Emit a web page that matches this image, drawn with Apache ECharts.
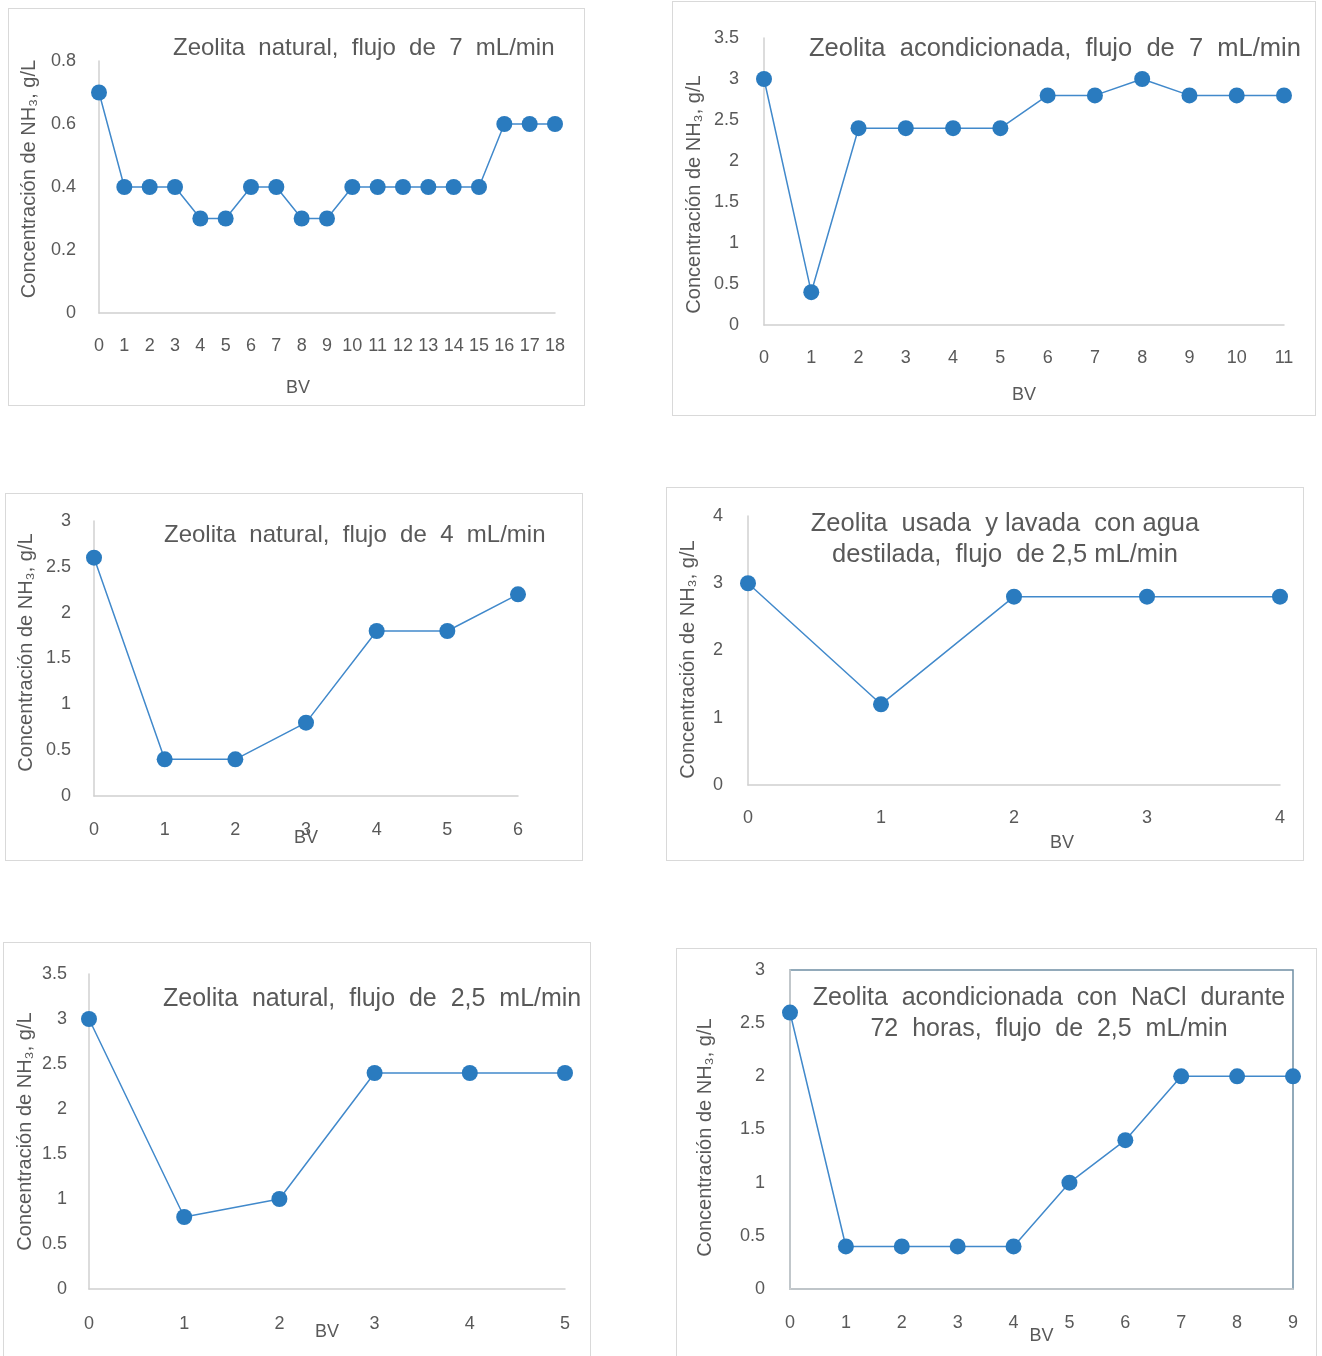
<!DOCTYPE html>
<html>
<head>
<meta charset="utf-8">
<script src="https://cdn.jsdelivr.net/npm/echarts@6/dist/echarts.min.js"></script>
<style>
body { margin: 0; width: 1322px; height: 1356px; background: #fff; position: relative; overflow: hidden; }
.box { position: absolute; border: 1px solid #d9d9d9; box-sizing: border-box; }
</style>
</head>
<body>
<div class="box" id="c1" style="left:8px;top:8px;width:577px;height:398px"></div>
<div class="box" id="c2" style="left:672px;top:1px;width:644px;height:415px"></div>
<div class="box" id="c3" style="left:5px;top:493px;width:578px;height:368px"></div>
<div class="box" id="c4" style="left:666px;top:487px;width:638px;height:374px"></div>
<div class="box" id="c5" style="left:3px;top:942px;width:588px;height:420px"></div>
<div class="box" id="c6" style="left:676px;top:948px;width:641px;height:414px"></div>
<script>
// datos de cada ensayo
const bv1 = ['0','1','2','3','4','5','6','7','8','9','10','11','12','13','14','15','16','17','18']
const nh1 = [0.7, 0.4, 0.4, 0.4, 0.3, 0.3, 0.4, 0.4, 0.3, 0.3, 0.4, 0.4, 0.4, 0.4, 0.4, 0.4, 0.6, 0.6, 0.6]
const bv2 = ['0','1','2','3','4','5','6','7','8','9','10','11']
const nh2 = [3, 0.4, 2.4, 2.4, 2.4, 2.4, 2.8, 2.8, 3, 2.8, 2.8, 2.8]
const bv3 = ['0','1','2','3','4','5','6']
const nh3 = [2.6, 0.4, 0.4, 0.8, 1.8, 1.8, 2.2]
const bv4 = ['0','1','2','3','4']
const nh4 = [3, 1.2, 2.8, 2.8, 2.8]
const bv5 = ['0','1','2','3','4','5']
const nh5 = [3, 0.8, 1, 2.4, 2.4, 2.4]
const bv6 = ['0','1','2','3','4','5','6','7','8','9']
const nh6 = [2.6, 0.4, 0.4, 0.4, 0.4, 1, 1.4, 2, 2, 2]

const gris = '#595959'
const fuente = 'Liberation Sans'
const yName = 'Concentración de NH₃, g/L'

function grafico(id, c) {
	echarts.init(document.getElementById(id)).setOption({
		textStyle: { fontFamily: fuente },
		title: {
			text: c.title,
			left: c.tLeft,
			top: c.tTop,
			padding: 0,
			textAlign: c.tAlign || 'left',
			textStyle: { fontSize: c.tSize || 24, fontWeight: 'normal', color: gris, fontFamily: fuente, lineHeight: 31 }
		},
		grid: Object.assign({
			show: !!c.frame,
			borderColor: c.frame || '#ccc',
			borderWidth: 1.5,
			containLabel: false,
			outerBoundsMode: 'none'
		}, c.grid),
		xAxis: {
			type: 'category',
			data: c.x,
			boundaryGap: false,
			name: 'BV',
			nameLocation: 'middle',
			nameGap: c.xGap,
			nameMoveOverlap: false,
			nameTextStyle: { fontSize: 18, color: gris, padding: c.xPad || 0 },
			axisTick: { show: false },
			axisLine: { lineStyle: { color: '#d0d0d0', width: 1.5 } },
			axisLabel: { fontSize: 18, color: gris, margin: c.xMargin || 24, interval: 0 }
		},
		yAxis: {
			type: 'value',
			min: 0,
			max: c.max,
			interval: c.step,
			name: yName,
			nameLocation: 'middle',
			nameGap: c.yGap,
			nameMoveOverlap: false,
			nameTextStyle: { fontSize: 20, color: gris, padding: c.yPad || 0 },
			splitLine: { show: false },
			axisLine: { show: true, lineStyle: { color: '#d0d0d0', width: 1.5 } },
			axisLabel: { fontSize: 18, color: gris, margin: c.yMargin || 23 }
		},
		series: [{
			type: 'line',
			data: c.y,
			symbol: 'circle',
			symbolSize: 16,
			itemStyle: { color: '#2a7bbf' },
			lineStyle: { color: '#4189cb', width: 1.5 }
		}]
	})
}

grafico('c1', {
	title: 'Zeolita  natural,  flujo  de  7  mL/min', tLeft: 164, tTop: 24,
	grid: { left: 90, top: 52, right: 29, bottom: 92 },
	x: bv1, y: nh1, max: 0.8, step: 0.2,
	xGap: 66, xPad: [0, 58, 0, 0], yGap: 60, yPad: [0, 0, 0, 16], xMargin: 24
})
grafico('c2', {
	title: 'Zeolita  acondicionada,  flujo  de  7  mL/min', tLeft: 136, tTop: 31, tSize: 25.5,
	grid: { left: 91, top: 36, right: 31, bottom: 90 },
	x: bv2, y: nh2, max: 3.5, step: 0.5,
	xGap: 61, yGap: 60, yPad: [0, 26, 0, 0], xMargin: 24, yMargin: 25
})
grafico('c3', {
	title: 'Zeolita  natural,  flujo  de  4  mL/min', tLeft: 158, tTop: 26,
	grid: { left: 88, top: 27, right: 64, bottom: 64 },
	x: bv3, y: nh3, max: 3, step: 0.5,
	xGap: 33, yGap: 58, yPad: [0, 0, 0, 12], xMargin: 25
})
grafico('c4', {
	title: 'Zeolita  usada  y lavada  con agua\ndestilada,  flujo  de 2,5 mL/min', tLeft: 338, tTop: 20, tAlign: 'center', tSize: 25.5,
	grid: { left: 81, top: 28, right: 23, bottom: 75 },
	x: bv4, y: nh4, max: 4, step: 1,
	xGap: 49, xPad: [0, 0, 0, 96], yGap: 50, yPad: [0, 18, 0, 0], xMargin: 24, yMargin: 25
})
grafico('c5', {
	title: 'Zeolita  natural,  flujo  de  2,5  mL/min', tLeft: 159, tTop: 41, tSize: 25,
	grid: { left: 85, top: 31, right: 25, bottom: 72 },
	x: bv5, y: nh5, max: 3.5, step: 0.5,
	xGap: 34, yGap: 54, xMargin: 26, yMargin: 22
})
grafico('c6', {
	title: 'Zeolita  acondicionada  con  NaCl  durante\n72  horas,  flujo  de  2,5  mL/min', tLeft: 372, tTop: 34, tAlign: 'center', tSize: 25,
	grid: { left: 113, top: 21, right: 23, bottom: 72 },
	frame: '#6f8ea4',
	x: bv6, y: nh6, max: 3, step: 0.5,
	xGap: 38, yGap: 75, yPad: [0, 16, 0, 0], xMargin: 25, yMargin: 25
})
</script>
</body>
</html>
